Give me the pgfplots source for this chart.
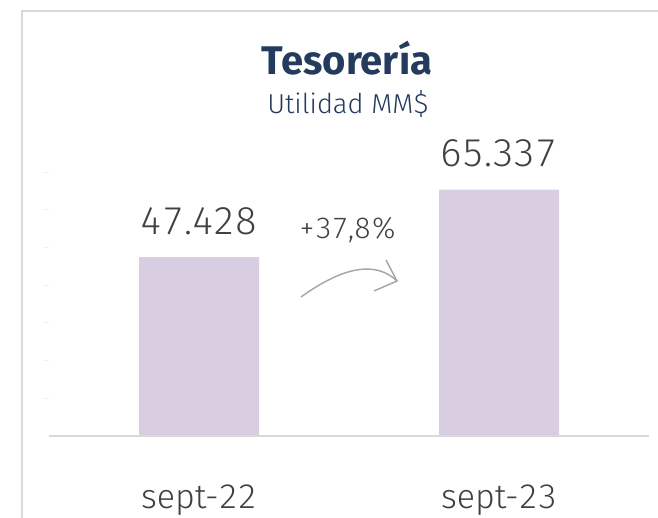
\documentclass[border=0pt]{standalone}
\usepackage{fontspec}
\setmainfont{Fira Sans}
\newfontfamily\light{Fira Sans Light}[Numbers=Monospaced]
\usepackage{pgfplots}
\pgfplotsset{compat=1.18}
\definecolor{navy}{HTML}{243B5E}
\definecolor{txt}{HTML}{404040}
\definecolor{barfill}{HTML}{D9CDE2}
\definecolor{frame}{HTML}{D9D9D9}
\definecolor{arrowgray}{HTML}{A6A6A6}
\begin{document}
\begin{tikzpicture}[x=0.75pt,y=0.75pt]
  \path[use as bounding box] (0,0) rectangle (658,518);
  % panel frame (top and left only)
  \draw[frame, line width=1.5pt] (22,0) -- (22,507) -- (658,507);
  \begin{axis}[
    at={(36.75pt,61.5pt)}, anchor=south west,
    width=450pt, height=198pt, scale only axis,
    ybar, bar width=90pt,
    xmin=-0.5, xmax=1.5, ymin=0, ymax=70000,
    scaled y ticks=false,
    axis line style={draw=none},
    xtick={0,1}, xticklabels={sept-22,sept-23},
    major x tick style={draw=none},
    xticklabel style={font=\light\fontsize{25.5}{27}\selectfont, text=txt,
                      anchor=base, yshift=-50pt},
    ytick={10000,20000,...,70000}, yticklabels={},
    ytick pos=left, tick align=outside, major tick length=4.5pt,
    major y tick style={draw=gray!12, line width=0.6pt},
    point meta=explicit symbolic,
    nodes near coords,
    every node near coord/.append style={font=\light\fontsize{29}{31}\selectfont,
                      text=txt, anchor=south, inner sep=0pt, yshift=16.5pt},
    clip=false,
  ]
    \addplot[fill=barfill, draw=none] coordinates {(0,47428)[47.428] (1,65337)[65.337]};
    \draw[frame, line width=1.5pt] (axis cs:-0.5,0) -- (axis cs:1.5,0);
  \end{axis}
  % titles
  \node[anchor=base, text=navy, font=\bfseries\fontsize{30}{32}\selectfont, inner sep=0pt]
    at (347,443) {Tesorería};
  \node[anchor=base, text=navy, font=\light\fontsize{20.5}{22}\selectfont, inner sep=0pt]
    at (348,404) {Utilidad MM\$};
  % growth annotation
  \node[anchor=base, text=txt, font=\light\fontsize{22}{24}\selectfont, inner sep=0pt]
    at (348,279) {+37,8\%};
  \draw[arrowgray, line width=1.1pt] (301,221) .. controls (344,252) and (376,257) .. (397,237);
  \draw[arrowgray, line width=1.1pt] (386,258) -- (397,237) -- (374,227);
\end{tikzpicture}
\end{document}
